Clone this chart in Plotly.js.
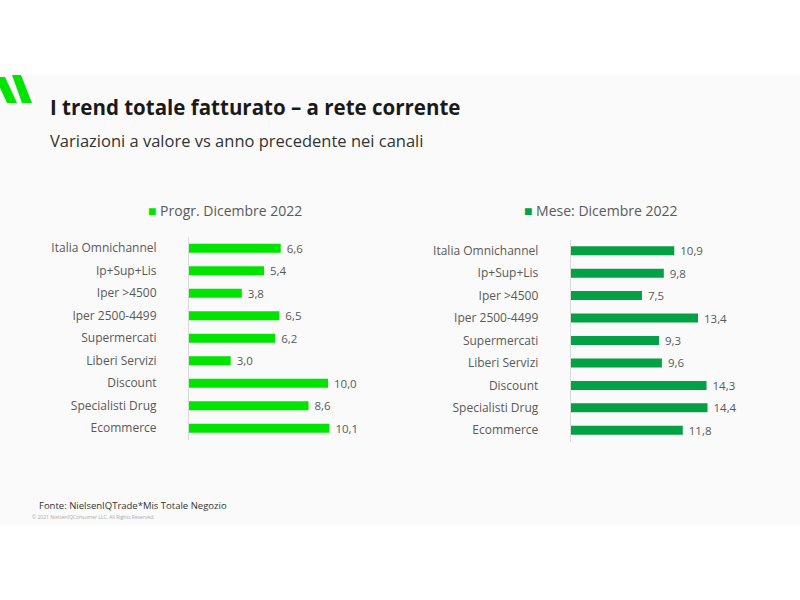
<!DOCTYPE html>
<html>
<head>
<meta charset="utf-8">
<script src="https://cdn.plot.ly/plotly-3.0.1.min.js"></script>
<style>html,body{margin:0;padding:0;background:#fff;}#chart{width:800px;height:600px;}</style>
</head>
<body>
<div id="chart"></div>
<script>
const categories = ["Italia Omnichannel","Ip+Sup+Lis","Iper >4500","Iper 2500-4499","Supermercati","Liberi Servizi","Discount","Specialisti Drug","Ecommerce"];
const progrValues = [6.6, 5.4, 3.8, 6.5, 6.2, 3.0, 10.0, 8.6, 10.1];
const meseValues = [10.9, 9.8, 7.5, 13.4, 9.3, 9.6, 14.3, 14.4, 11.8];
const progrName = "Progr. Dicembre 2022";
const meseName = "Mese: Dicembre 2022";
const titleText = "I trend totale fatturato – a rete corrente";
const subtitleText = "Variazioni a valore vs anno precedente nei canali";
const sourceText = "Fonte: NielsenIQTrade*Mis Totale Negozio";
const copyrightText = "© 2021 NielsenIQConsumer LLC. All Rights Reserved.";

const colLeft = "#00e400";
const colRight = "#04a045";
const FONT = "Open Sans, sans-serif";
const fmt = v => v.toFixed(1).replace(".", ",");

const W = 800, H = 600;
const px = x => x / W;
const py = y => 1 - y / H;

const traces = [
  {type:"bar", orientation:"h", x:progrValues, y:categories, xaxis:"x", yaxis:"y",
   marker:{color:colLeft}, width:0.4, text:progrValues.map(v=>" "+fmt(v)), textposition:"outside",
   constraintext:"none",
   textfont:{family:FONT, size:11.5, color:"#595959"}, cliponaxis:false, showlegend:false, hoverinfo:"skip", name:progrName},
  {type:"bar", orientation:"h", x:meseValues, y:categories, xaxis:"x2", yaxis:"y2",
   marker:{color:colRight}, width:0.4, text:meseValues.map(v=>" "+fmt(v)), textposition:"outside",
   constraintext:"none",
   textfont:{family:FONT, size:11.5, color:"#595959"}, cliponaxis:false, showlegend:false, hoverinfo:"skip", name:meseName}
];

const yCommon = {type:"category", autorange:false, range:[8.5,-0.5], showgrid:false, zeroline:false,
  showline:true, linecolor:"#d9d9d9", linewidth:1, ticks:"outside", ticklen:29, tickcolor:"rgba(0,0,0,0)",
  tickfont:{family:FONT, size:12, color:"#595959"}, fixedrange:true};
const xCommon = {showgrid:false, zeroline:false, showticklabels:false, showline:false, ticks:"", fixedrange:true};

const layout = {
  width:W, height:H, margin:{l:0,r:0,t:0,b:0},
  paper_bgcolor:"#ffffff", plot_bgcolor:"rgba(0,0,0,0)",
  showlegend:false, hovermode:false,
  font:{family:FONT, color:"#595959"},
  xaxis:Object.assign({}, xCommon, {domain:[px(189), px(189+13.9*12)], range:[0,12], anchor:"y"}),
  yaxis:Object.assign({}, yCommon, {domain:[py(439.5), py(237)], anchor:"x"}),
  xaxis2:Object.assign({}, xCommon, {domain:[px(570.7), px(570.7+9.5*16)], range:[0,16], anchor:"y2"}),
  yaxis2:Object.assign({}, yCommon, {domain:[py(441.5), py(239.5)], anchor:"x2"}),
  shapes:[
    {type:"rect", xref:"paper", yref:"paper", x0:0, x1:1, y0:py(525), y1:py(75), fillcolor:"#fafafa", line:{width:0}, layer:"below"},
    {type:"path", xref:"paper", yref:"paper", layer:"above", fillcolor:colLeft, line:{width:0},
     path:`M ${px(-5)} ${py(77)} L ${px(5)} ${py(77)} L ${px(17)} ${py(103)} L ${px(7)} ${py(103)} Z`},
    {type:"path", xref:"paper", yref:"paper", layer:"above", fillcolor:colLeft, line:{width:0},
     path:`M ${px(12)} ${py(75)} L ${px(21)} ${py(75)} L ${px(32)} ${py(103)} L ${px(22)} ${py(103)} Z`}
  ],
  annotations:[
    {xref:"paper", yref:"paper", x:px(48), y:py(107), xanchor:"left", yanchor:"middle", showarrow:false,
     text:"<b>"+titleText+"</b>", font:{family:FONT, size:20.5, color:"#1a1a1a"}},
    {xref:"paper", yref:"paper", x:px(48), y:py(140), xanchor:"left", yanchor:"middle", showarrow:false,
     text:subtitleText, font:{family:FONT, size:16.5, color:"#333333"}},
    {xref:"paper", yref:"paper", x:px(146), y:py(210), xanchor:"left", yanchor:"middle", showarrow:false,
     text:`<span style="color:${colLeft}">■</span> `+progrName, font:{family:FONT, size:14, color:"#595959"}},
    {xref:"paper", yref:"paper", x:px(522), y:py(210), xanchor:"left", yanchor:"middle", showarrow:false,
     text:`<span style="color:${colRight}">■</span> `+meseName, font:{family:FONT, size:14, color:"#595959"}},
    {xref:"paper", yref:"paper", x:px(37), y:py(505), xanchor:"left", yanchor:"middle", showarrow:false,
     text:sourceText, font:{family:FONT, size:9.5, color:"#333333"}},
    {xref:"paper", yref:"paper", x:px(30), y:py(517), xanchor:"left", yanchor:"middle", showarrow:false,
     text:copyrightText, font:{family:FONT, size:5, color:"#aaaaaa"}}
  ]
};

Plotly.newPlot("chart", traces, layout, {staticPlot:true, displayModeBar:false});
</script>
</body>
</html>
